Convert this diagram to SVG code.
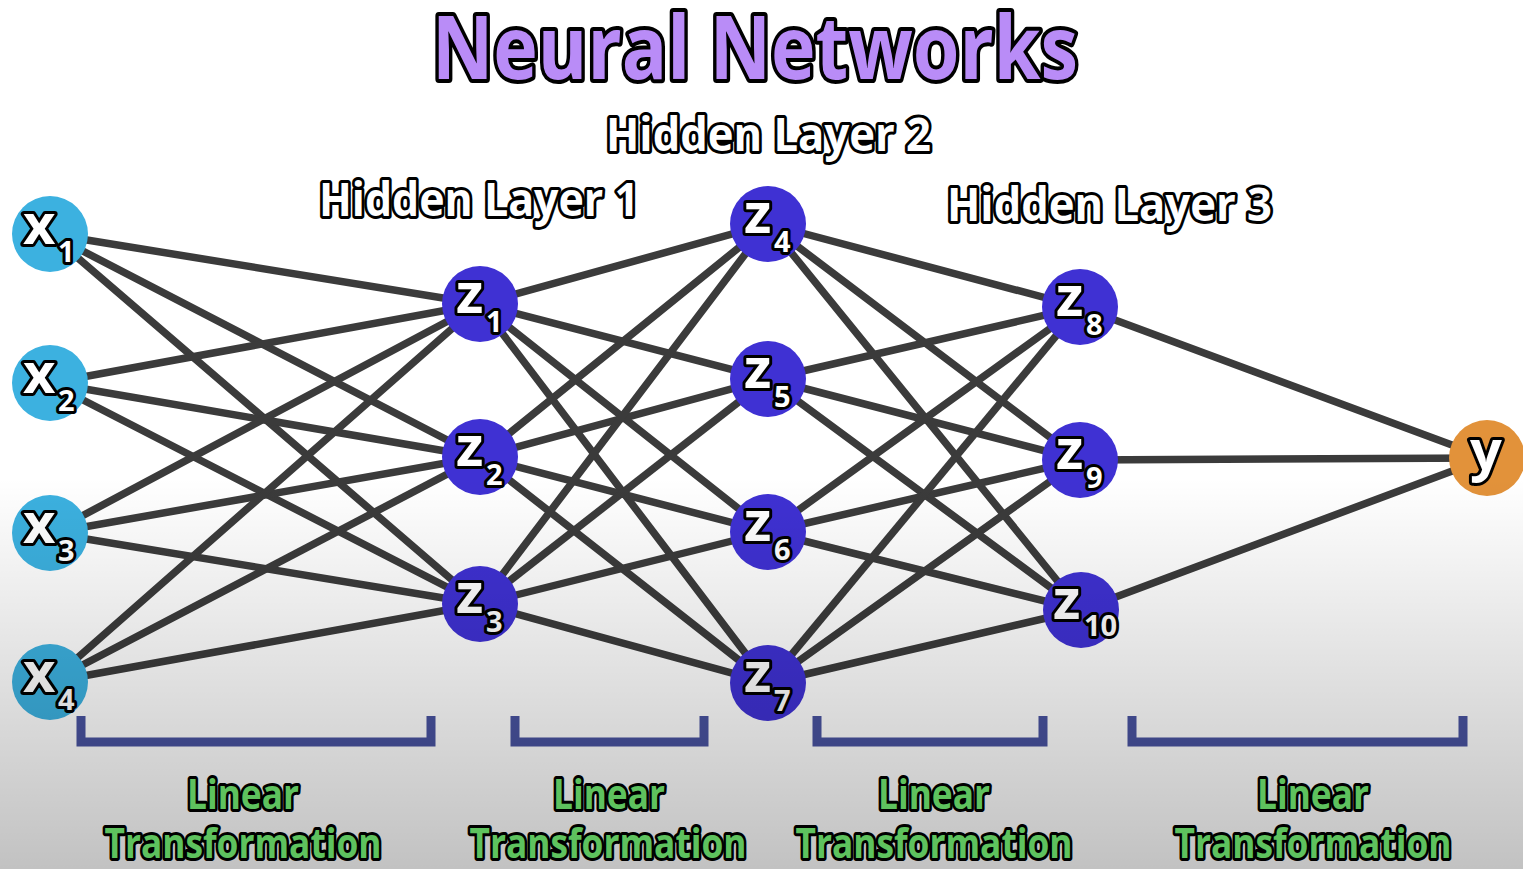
<svg xmlns="http://www.w3.org/2000/svg" width="1523" height="869" viewBox="0 0 1523 869">
<style>
.edge{stroke:#3b3b3b;stroke-width:7.5;stroke-linecap:round}
.in{fill:#3cb1e0}
.hid{fill:#3f31d3}
.out{fill:#e2923a}
.lbl{font-family:"Open Sans","DejaVu Sans",sans-serif;font-weight:700;fill:#fff;stroke:#000;stroke-width:6;paint-order:stroke;stroke-linejoin:round}
.big{font-size:56px}
.sub{font-size:29px}
.title{font-family:"Open Sans","DejaVu Sans",sans-serif;font-weight:700;font-size:88px;fill:#b98cf7;stroke:#000;stroke-width:8;paint-order:stroke;stroke-linejoin:round}
.layer{font-family:"Open Sans","DejaVu Sans",sans-serif;font-weight:700;font-size:46px;fill:#fff;stroke:#000;stroke-width:6;paint-order:stroke;stroke-linejoin:round}
.lt{font-family:"Open Sans","DejaVu Sans",sans-serif;font-weight:700;font-size:42px;fill:#5ec25e;stroke:#000;stroke-width:6;paint-order:stroke;stroke-linejoin:round;text-anchor:middle}
.br{fill:none;stroke:#4953a0;stroke-width:9}
</style>
<defs>
<linearGradient id="shade" x1="0" y1="0" x2="0" y2="1">
<stop offset="0" stop-color="#000" stop-opacity="0"/>
<stop offset="0.55" stop-color="#000" stop-opacity="0"/>
<stop offset="1" stop-color="#000" stop-opacity="0.24"/>
</linearGradient>
</defs>
<rect width="1523" height="869" fill="#fff"/>
<text class="title" x="432" y="79" textLength="646" lengthAdjust="spacingAndGlyphs">Neural Networks</text>
<text class="layer" x="606" y="151" textLength="325" lengthAdjust="spacingAndGlyphs">Hidden Layer 2</text>
<text class="layer" x="319" y="216" textLength="320" lengthAdjust="spacingAndGlyphs">Hidden Layer 1</text>
<text class="layer" x="947" y="221" textLength="325" lengthAdjust="spacingAndGlyphs">Hidden Layer 3</text>
<g id="connectors">
<line class="edge" x1="50" y1="234" x2="480" y2="304"/>
<line class="edge" x1="50" y1="234" x2="480" y2="457"/>
<line class="edge" x1="50" y1="234" x2="480" y2="604"/>
<line class="edge" x1="50" y1="383" x2="480" y2="304"/>
<line class="edge" x1="50" y1="383" x2="480" y2="457"/>
<line class="edge" x1="50" y1="383" x2="480" y2="604"/>
<line class="edge" x1="50" y1="533" x2="480" y2="304"/>
<line class="edge" x1="50" y1="533" x2="480" y2="457"/>
<line class="edge" x1="50" y1="533" x2="480" y2="604"/>
<line class="edge" x1="50" y1="682" x2="480" y2="304"/>
<line class="edge" x1="50" y1="682" x2="480" y2="457"/>
<line class="edge" x1="50" y1="682" x2="480" y2="604"/>
<line class="edge" x1="480" y1="304" x2="768" y2="224"/>
<line class="edge" x1="480" y1="304" x2="768" y2="379"/>
<line class="edge" x1="480" y1="304" x2="768" y2="532"/>
<line class="edge" x1="480" y1="304" x2="768" y2="683"/>
<line class="edge" x1="480" y1="457" x2="768" y2="224"/>
<line class="edge" x1="480" y1="457" x2="768" y2="379"/>
<line class="edge" x1="480" y1="457" x2="768" y2="532"/>
<line class="edge" x1="480" y1="457" x2="768" y2="683"/>
<line class="edge" x1="480" y1="604" x2="768" y2="224"/>
<line class="edge" x1="480" y1="604" x2="768" y2="379"/>
<line class="edge" x1="480" y1="604" x2="768" y2="532"/>
<line class="edge" x1="480" y1="604" x2="768" y2="683"/>
<line class="edge" x1="768" y1="224" x2="1080" y2="307"/>
<line class="edge" x1="768" y1="224" x2="1080" y2="460"/>
<line class="edge" x1="768" y1="224" x2="1081" y2="610"/>
<line class="edge" x1="768" y1="379" x2="1080" y2="307"/>
<line class="edge" x1="768" y1="379" x2="1080" y2="460"/>
<line class="edge" x1="768" y1="379" x2="1081" y2="610"/>
<line class="edge" x1="768" y1="532" x2="1080" y2="307"/>
<line class="edge" x1="768" y1="532" x2="1080" y2="460"/>
<line class="edge" x1="768" y1="532" x2="1081" y2="610"/>
<line class="edge" x1="768" y1="683" x2="1080" y2="307"/>
<line class="edge" x1="768" y1="683" x2="1080" y2="460"/>
<line class="edge" x1="768" y1="683" x2="1081" y2="610"/>
<line class="edge" x1="1080" y1="307" x2="1487" y2="458"/>
<line class="edge" x1="1080" y1="460" x2="1487" y2="458"/>
<line class="edge" x1="1081" y1="610" x2="1487" y2="458"/>
</g>
<g id="x1"><circle class="in" cx="50" cy="234" r="38"/><text class="lbl big" x="23" y="244">x</text><text class="lbl sub" x="58" y="262">1</text></g>
<g id="x2"><circle class="in" cx="50" cy="383" r="38"/><text class="lbl big" x="23" y="393">x</text><text class="lbl sub" x="58" y="411">2</text></g>
<g id="x3"><circle class="in" cx="50" cy="533" r="38"/><text class="lbl big" x="23" y="543">x</text><text class="lbl sub" x="58" y="561">3</text></g>
<g id="x4"><circle class="in" cx="50" cy="682" r="38"/><text class="lbl big" x="23" y="692">x</text><text class="lbl sub" x="58" y="710">4</text></g>
<g id="z1"><circle class="hid" cx="480" cy="304" r="38"/><text class="lbl big" x="456" y="313">z</text><text class="lbl sub" x="486" y="332">1</text></g>
<g id="z2"><circle class="hid" cx="480" cy="457" r="38"/><text class="lbl big" x="456" y="466">z</text><text class="lbl sub" x="486" y="485">2</text></g>
<g id="z3"><circle class="hid" cx="480" cy="604" r="38"/><text class="lbl big" x="456" y="613">z</text><text class="lbl sub" x="486" y="632">3</text></g>
<g id="z4"><circle class="hid" cx="768" cy="224" r="38"/><text class="lbl big" x="744" y="233">z</text><text class="lbl sub" x="774" y="252">4</text></g>
<g id="z5"><circle class="hid" cx="768" cy="379" r="38"/><text class="lbl big" x="744" y="388">z</text><text class="lbl sub" x="774" y="407">5</text></g>
<g id="z6"><circle class="hid" cx="768" cy="532" r="38"/><text class="lbl big" x="744" y="541">z</text><text class="lbl sub" x="774" y="560">6</text></g>
<g id="z7"><circle class="hid" cx="768" cy="683" r="38"/><text class="lbl big" x="744" y="692">z</text><text class="lbl sub" x="774" y="711">7</text></g>
<g id="z8"><circle class="hid" cx="1080" cy="307" r="38"/><text class="lbl big" x="1056" y="316">z</text><text class="lbl sub" x="1086" y="335">8</text></g>
<g id="z9"><circle class="hid" cx="1080" cy="460" r="38"/><text class="lbl big" x="1056" y="469">z</text><text class="lbl sub" x="1086" y="488">9</text></g>
<g id="z10"><circle class="hid" cx="1081" cy="610" r="38"/><text class="lbl big" x="1053" y="619">z</text><text class="lbl sub" x="1084" y="636">10</text></g>
<g id="y"><circle class="out" cx="1487" cy="458" r="38"/><text class="lbl big" x="1470" y="470">y</text></g>
<g id="brackets">
<polyline class="br" points="81,716 81,742 431,742 431,716"/>
<polyline class="br" points="515,716 515,742 704,742 704,716"/>
<polyline class="br" points="817,716 817,742 1043,742 1043,716"/>
<polyline class="br" points="1132,716 1132,742 1463,742 1463,716"/>
</g>
<rect width="1523" height="869" fill="url(#shade)" pointer-events="none"/>
<g id="labels">
<text class="lt" x="243" y="809" textLength="112" lengthAdjust="spacingAndGlyphs">Linear</text>
<text class="lt" x="243" y="858" textLength="277" lengthAdjust="spacingAndGlyphs">Transformation</text>
<text class="lt" x="609" y="809" textLength="112" lengthAdjust="spacingAndGlyphs">Linear</text>
<text class="lt" x="608" y="858" textLength="277" lengthAdjust="spacingAndGlyphs">Transformation</text>
<text class="lt" x="934" y="809" textLength="112" lengthAdjust="spacingAndGlyphs">Linear</text>
<text class="lt" x="934" y="858" textLength="277" lengthAdjust="spacingAndGlyphs">Transformation</text>
<text class="lt" x="1313" y="809" textLength="112" lengthAdjust="spacingAndGlyphs">Linear</text>
<text class="lt" x="1313" y="858" textLength="277" lengthAdjust="spacingAndGlyphs">Transformation</text>
</g>
</svg>
